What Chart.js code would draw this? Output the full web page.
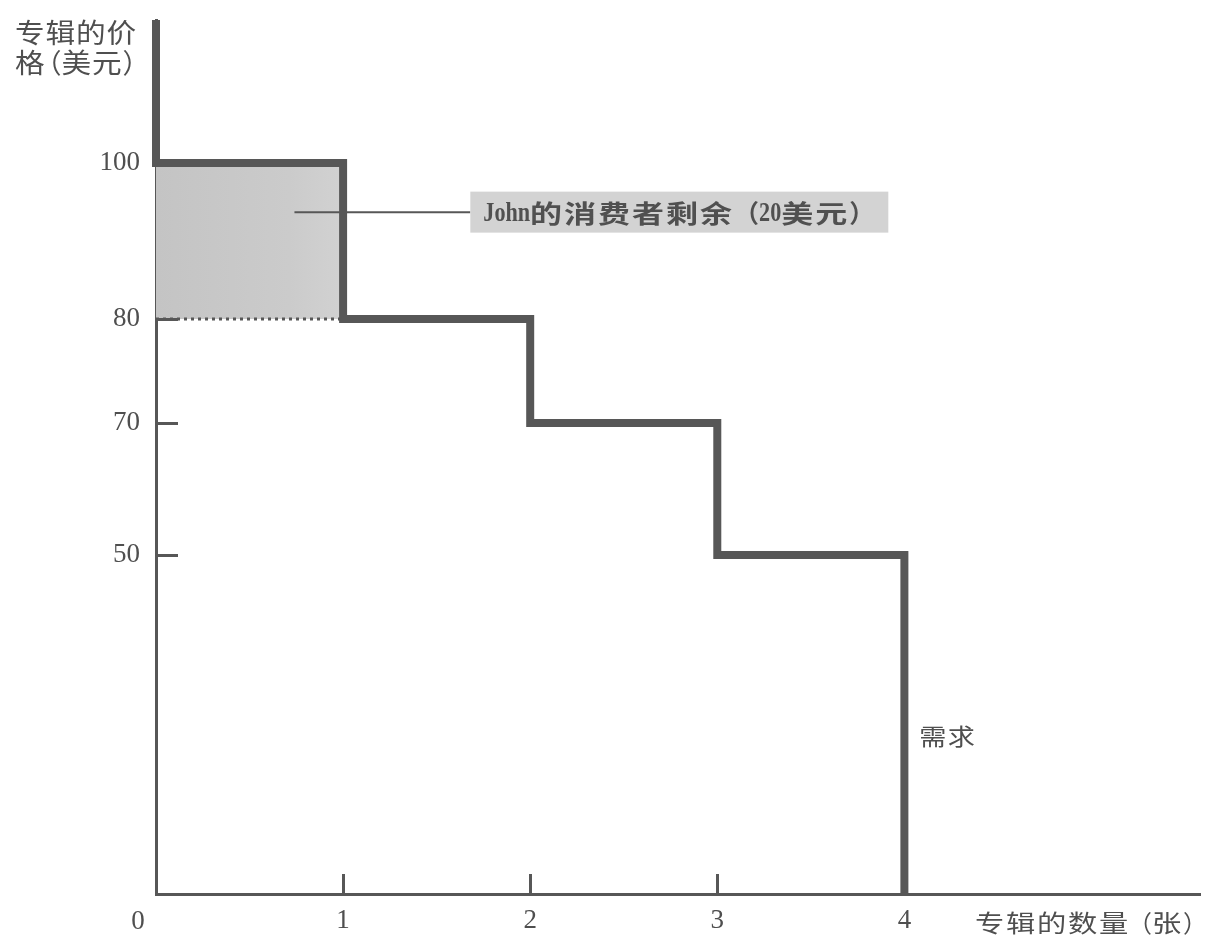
<!DOCTYPE html>
<html><head><meta charset="utf-8">
<script src="https://cdn.jsdelivr.net/npm/chart.js@4"></script>
<style>html,body{margin:0;padding:0;background:#fff;}canvas{display:block;}</style>
</head><body>
<canvas id="c" width="1212" height="941"></canvas>
<script>
// ---------- data ----------
const demandQuantity = [0, 0, 1, 1, 2, 2, 3, 3, 4, 4];
const demandPrice    = [120, 100, 100, 80, 80, 70, 70, 50, 50, 0];
const surplusQuantity = [0, 1];
const surplusTopPrice = [100, 100];
const surplusBottomPrice = [80, 80];
const yTickValues = [50, 70, 80, 100];
const xTickValues = [1, 2, 3, 4];
const yMaxValue = 120;
const xMaxValue = 5.58;
const surplusText = 'John的消费者剩余（20美元）';
const demandText = '需求';
const yTitleLines = ['专辑的价', '格（美元）'];
const xTitleText = '专辑的数量（张）';
const originText = '0';

// ---------- layout / style (not data) ----------
const INK = '#4f4f4f';
const LINE = '#575757';
const yStops = [[0, 0], [50, 0.3879], [70, 0.5389], [80, 0.6579], [100, 0.8364], [120, 1]];
const leaderFrom = {x: 0.74, y: 93.7};
const leaderTo = {x: 1.68, y: 93.7};
const demandLabelAt = {x: 4.08, y: 23.2};

// piecewise-linear value scale (schematic axis)
class PiecewiseScale extends Chart.LinearScale {
  _toDec(v) {
    const s = yStops;
    if (v <= s[0][0]) return s[0][1];
    for (let i = 1; i < s.length; i++) {
      if (v <= s[i][0]) {
        const t = (v - s[i-1][0]) / (s[i][0] - s[i-1][0]);
        return s[i-1][1] + t * (s[i][1] - s[i-1][1]);
      }
    }
    return s[s.length-1][1];
  }
  _fromDec(d) {
    const s = yStops;
    for (let i = 1; i < s.length; i++) {
      if (d <= s[i][1]) {
        const t = (d - s[i-1][1]) / (s[i][1] - s[i-1][1]);
        return s[i-1][0] + t * (s[i][0] - s[i-1][0]);
      }
    }
    return s[s.length-1][0];
  }
  getPixelForValue(value) {
    if (value === null || value === undefined || isNaN(value)) return NaN;
    return this.getPixelForDecimal(this._toDec(value));
  }
  getValueForPixel(pixel) {
    return this._fromDec(this.getDecimalForPixel(pixel));
  }
}
PiecewiseScale.id = 'piecewise';
PiecewiseScale.defaults = Chart.LinearScale.defaults;
Chart.register(PiecewiseScale);

// mixed CJK / Latin text drawing (CJK glyphs widened like the scanned original)
function isCJK(ch) { return /[\u2e80-\u9fff\u3000-\u303f\uff00-\uffef]/.test(ch); }
function drawMixed(ctx, text, x, y, st) {
  const w = st.weight || 'normal';
  const cjkFont = w + ' ' + st.cjkSize + 'px "Noto Sans CJK SC"';
  const latFont = (st.latWeight || 'normal') + ' ' + st.latSize + 'px "Liberation Serif"';
  const sx = st.sx || 1;
  const lsx = st.latSx || 1;
  ctx.save();
  ctx.fillStyle = st.color || INK;
  ctx.textBaseline = 'middle';
  ctx.textAlign = 'left';
  let cx = x;
  for (const ch of text) {
    if (ch === '（' || ch === '）') {
      ctx.font = cjkFont;
      const gw = ctx.measureText(ch).width;
      const dx = ch === '（' ? -(gw - st.parenAdv) : 0;
      ctx.fillText(ch, cx + dx, y);
      cx += st.parenAdv;
    } else if (isCJK(ch)) {
      ctx.font = cjkFont;
      ctx.save();
      ctx.translate(cx, y);
      ctx.scale(sx, 1);
      ctx.fillText(ch, 0, 0);
      ctx.restore();
      cx += st.cjkAdv;
    } else {
      ctx.font = latFont;
      ctx.save();
      ctx.translate(cx, y + (st.latDy || 0));
      ctx.scale(lsx, 1);
      ctx.fillText(ch, 0, 0);
      ctx.restore();
      cx += ctx.measureText(ch).width * lsx;
    }
  }
  ctx.restore();
  return cx - x;
}

const decor = {
  id: 'decor',
  afterDatasetDraw(chart, args) {
    if (args.index !== 1) return; // after the shaded area: leader line
    const {ctx, scales: {x, y}} = chart;
    ctx.save();
    ctx.strokeStyle = LINE;
    ctx.lineWidth = 2;
    ctx.beginPath();
    ctx.moveTo(x.getPixelForValue(leaderFrom.x), y.getPixelForValue(leaderFrom.y));
    ctx.lineTo(x.getPixelForValue(leaderTo.x), y.getPixelForValue(leaderTo.y));
    ctx.stroke();
    ctx.restore();
  },
  afterDatasetsDraw(chart) {
    const {ctx, scales: {x, y}} = chart;
    const x0 = x.getPixelForValue(0), y0 = y.getPixelForValue(0);
    ctx.save();
    ctx.strokeStyle = LINE;
    ctx.lineWidth = 3;
    ctx.beginPath();
    yTickValues.forEach(v => { const py = Math.round(y.getPixelForValue(v)) + 0.5; ctx.moveTo(x0, py); ctx.lineTo(x0 + 22, py); });
    xTickValues.forEach(v => { const px = Math.round(x.getPixelForValue(v)) + 0.5; ctx.moveTo(px, y0); ctx.lineTo(px, y0 - 20); });
    ctx.stroke();
    ctx.restore();

    // label box
    const bx = x.getPixelForValue(leaderTo.x), by = y.getPixelForValue(leaderTo.y);
    ctx.save();
    ctx.fillStyle = '#d3d3d3';
    ctx.fillRect(bx, by - 20.5, 418, 41);
    ctx.restore();
    drawMixed(ctx, surplusText, bx + 13, by + 1,
      {cjkSize: 25, cjkAdv: 34, sx: 1.28, parenAdv: 25, latSize: 27, latSx: 0.82, latDy: 1, weight: 'bold', latWeight: 'bold', color: '#505050'});

    // demand label
    drawMixed(ctx, demandText, x.getPixelForValue(demandLabelAt.x), y.getPixelForValue(demandLabelAt.y),
      {cjkSize: 23, cjkAdv: 28.5, sx: 1.18, parenAdv: 20, latSize: 24});

    // axis titles
    drawMixed(ctx, yTitleLines[0], 15, 33, {cjkSize: 27, cjkAdv: 30.5, sx: 1.1, parenAdv: 16, latSize: 28});
    drawMixed(ctx, yTitleLines[1], 15, 63, {cjkSize: 27, cjkAdv: 30.5, sx: 1.1, parenAdv: 16, latSize: 28});
    drawMixed(ctx, xTitleText, 975, 923, {cjkSize: 24, cjkAdv: 31, sx: 1.22, parenAdv: 22, latSize: 25});

    // origin label
    ctx.save();
    ctx.font = '27px "Liberation Serif"';
    ctx.fillStyle = INK;
    ctx.textAlign = 'center';
    ctx.textBaseline = 'middle';
    ctx.fillText(originText, x0 - 18, y0 + 28);
    ctx.restore();
  }
};

const tickFont = {family: 'Liberation Serif', size: 27};

new Chart(document.getElementById('c'), {
  type: 'line',
  data: {
    datasets: [
      {
        label: 'demand',
        data: demandQuantity.map((q, i) => ({x: q, y: demandPrice[i]})),
        borderColor: LINE, borderWidth: 8, pointRadius: 0, tension: 0,
        borderJoinStyle: 'miter', borderCapStyle: 'butt', fill: false, clip: false, order: 0
      },
      {
        label: 'surplus',
        data: surplusQuantity.map((q, i) => ({x: q, y: surplusTopPrice[i]})),
        borderColor: 'rgba(0,0,0,0)', borderWidth: 0, pointRadius: 0,
        fill: {value: surplusBottomPrice[0]},
        backgroundColor: (c) => {
          const ca = c.chart.chartArea;
          if (!ca) return '#c9c9c9';
          const g = c.chart.ctx.createLinearGradient(ca.left, 0, ca.left + 190, 0);
          g.addColorStop(0, '#c4c4c4'); g.addColorStop(0.7, '#cbcbcb'); g.addColorStop(1, '#d2d2d2');
          return g;
        },
        order: 2
      },
      {
        label: 'surplusBase',
        data: surplusQuantity.map((q, i) => ({x: q, y: surplusBottomPrice[i]})),
        borderColor: LINE, borderWidth: 3, borderDash: [3, 4], pointRadius: 0, fill: false, order: 1
      }
    ]
  },
  options: {
    responsive: false,
    animation: false,
    events: [],
    layout: {padding: {top: 20, right: 12, left: 0, bottom: 0}},
    plugins: {legend: {display: false}, tooltip: {enabled: false}},
    scales: {
      x: {
        type: 'linear', min: 0, max: xMaxValue,
        afterBuildTicks: s => { s.ticks = xTickValues.map(v => ({value: v})); },
        afterFit: s => { s.height = 47; s.paddingLeft = 0; s.paddingRight = 0; },
        grid: {display: true, drawOnChartArea: false, drawTicks: false, color: 'rgba(0,0,0,0)'},
        border: {display: true, color: LINE, width: 3},
        ticks: {font: tickFont, color: INK, padding: 11, maxRotation: 0, autoSkip: false, callback: v => String(v)}
      },
      y: {
        type: 'piecewise', min: 0, max: yMaxValue,
        afterBuildTicks: s => { s.ticks = yTickValues.map(v => ({value: v})); },
        afterFit: s => { s.width = 156; s.paddingTop = 0; s.paddingBottom = 0; },
        grid: {display: true, drawOnChartArea: false, drawTicks: false, color: 'rgba(0,0,0,0)'},
        border: {display: true, color: LINE, width: 3},
        ticks: {font: tickFont, color: INK, padding: 16, autoSkip: false, callback: v => String(v)}
      }
    }
  },
  plugins: [decor]
});
</script>
</body></html>
